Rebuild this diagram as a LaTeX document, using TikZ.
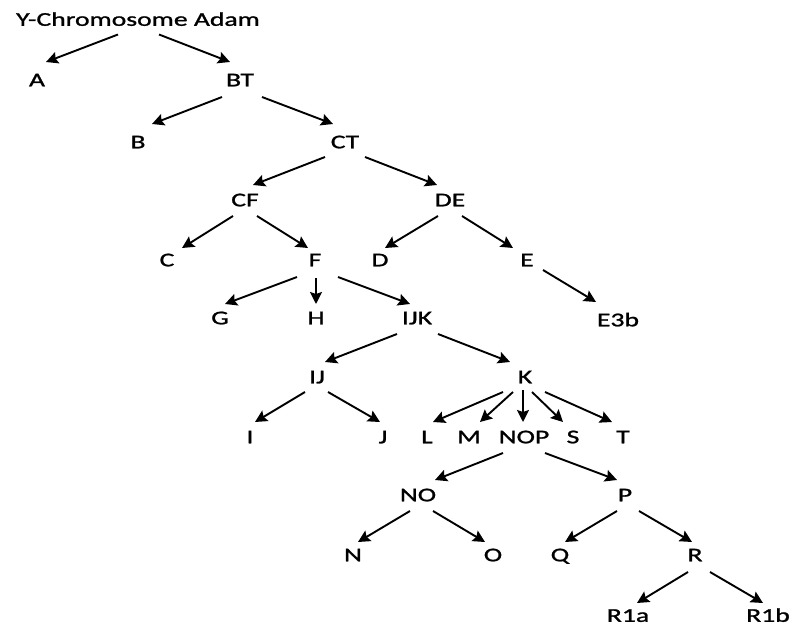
\documentclass[tikz,border=0pt]{standalone}
\usepackage{fontspec}
\setmainfont[FakeStretch=1.42,FakeBold=1.2]{Carlito}
\usetikzlibrary{arrows.meta,calc}
\tikzset{
  lbl/.style={inner sep=0pt, text height=12.6bp, text depth=0pt, font=\fontsize{19.5bp}{20bp}\selectfont},
  arr/.style={line width=1.9bp, -{Stealth[length=12bp,width=12bp,inset=2bp]}}
}
\begin{document}
\begin{tikzpicture}[x=1bp,y=-1bp]
\useasboundingbox[fill=white] (0,0) rectangle (793,626);
\node[lbl] (adam) at (138,19.5) {Y-Chromosome Adam};
\node[lbl] (A) at (37,80) {A};
\node[lbl] (BT) at (240,80) {BT};
\node[lbl] (B) at (138,142) {B};
\node[lbl] (CT) at (345,142) {CT};
\node[lbl] (CF) at (245,200) {CF};
\node[lbl] (DE) at (450,200) {DE};
\node[lbl] (C) at (167,260) {C};
\node[lbl] (F) at (315,260) {F};
\node[lbl] (D) at (380,260) {D};
\node[lbl] (E) at (527,260) {E};
\node[lbl] (G) at (220,318) {G};
\node[lbl] (H) at (316,318) {H};
\node[lbl] (IJK) at (417,318) {IJK};
\node[lbl] (E3b) at (618,320) {E3b};
\node[lbl] (IJ) at (317,377) {IJ};
\node[lbl] (K) at (525,377) {K};
\node[lbl] (I) at (250,437) {I};
\node[lbl] (J) at (383,437) {J};
\node[lbl] (L) at (427,437) {L};
\node[lbl] (M) at (469,437) {M};
\node[lbl] (NOP) at (524,437) {NOP};
\node[lbl] (S) at (573,437) {S};
\node[lbl] (T) at (623,437) {T};
\node[lbl] (NO) at (418,495) {NO};
\node[lbl] (P) at (625,495) {P};
\node[lbl] (N) at (353,555) {N};
\node[lbl] (O) at (493,555) {O};
\node[lbl] (Q) at (560,555) {Q};
\node[lbl] (R) at (695,555) {R};
\node[lbl] (R1a) at (628,615.5) {R1a};
\node[lbl] (R1b) at (768,615.5) {R1b};

\draw[arr] ($(adam)+(-20,15)$) -- ($(A)+(9,-18)$);
\draw[arr] ($(adam)+(21,15)$) -- ($(BT)+(-10,-18)$);
\draw[arr] ($(BT)+(-18,17)$) -- ($(B)+(14,-18)$);
\draw[arr] ($(BT)+(22,17)$) -- ($(CT)+(-12,-18)$);
\draw[arr] ($(CT)+(-20,15)$) -- ($(CF)+(8,-15)$);
\draw[arr] ($(CT)+(20,15)$) -- ($(DE)+(-13,-15)$);
\draw[arr] ($(CF)+(-12,16)$) -- ($(C)+(15,-12)$);
\draw[arr] ($(CF)+(12,16)$) -- ($(F)+(-7,-12)$);
\draw[arr] ($(DE)+(-12,16)$) -- ($(D)+(5,-12)$);
\draw[arr] ($(DE)+(12,16)$) -- ($(E)+(-14,-12)$);
\draw[arr] ($(E)+(16,10)$) -- ($(E3b)+(-22,-18)$);
\draw[arr] ($(F)+(-18,17)$) -- ($(G)+(5,-14)$);
\draw[arr] ($(F)+(1,18)$) -- ($(H)+(0,-14)$);
\draw[arr] ($(F)+(23,17)$) -- ($(IJK)+(-7,-14)$);
\draw[arr] ($(IJK)+(-20,16)$) -- ($(IJ)+(8,-15)$);
\draw[arr] ($(IJK)+(21,16)$) -- ($(K)+(-15,-15)$);
\draw[arr] ($(IJ)+(-12,15)$) -- ($(I)+(5,-15)$);
\draw[arr] ($(IJ)+(11,15)$) -- ($(J)+(-3,-15)$);
\draw[arr] ($(K)+(-22,15)$) -- ($(L)+(6,-15)$);
\draw[arr] ($(K)+(-12,15)$) -- ($(M)+(11,-15)$);
\draw[arr] ($(K)+(-2,13)$) -- ($(NOP)+(-1,-15)$);
\draw[arr] ($(K)+(7,15)$) -- ($(S)+(-10,-15)$);
\draw[arr] ($(K)+(20,15)$) -- ($(T)+(-11,-15)$);
\draw[arr] ($(NOP)+(-21,16)$) -- ($(NO)+(17,-15)$);
\draw[arr] ($(NOP)+(21,16)$) -- ($(P)+(-8,-15)$);
\draw[arr] ($(NO)+(-8,16)$) -- ($(N)+(5,-13)$);
\draw[arr] ($(NO)+(15,16)$) -- ($(O)+(-8,-13)$);
\draw[arr] ($(P)+(-8,16)$) -- ($(Q)+(5,-13)$);
\draw[arr] ($(P)+(14,16)$) -- ($(R)+(-3,-13)$);
\draw[arr] ($(R)+(-7,17)$) -- ($(R1a)+(9,-12.5)$);
\draw[arr] ($(R)+(15,17)$) -- ($(R1b)+(-5,-12.5)$);
\end{tikzpicture}
\end{document}
